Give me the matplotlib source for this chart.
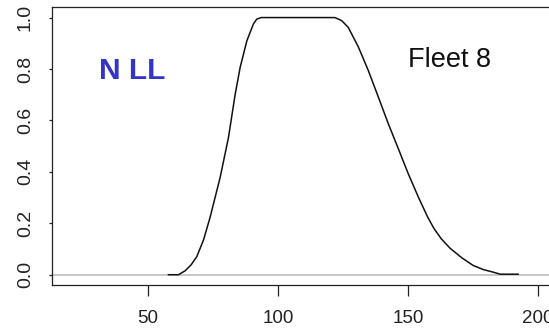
import matplotlib
matplotlib.use("Agg")
from matplotlib import pyplot as plt

# selectivity curve (length, selectivity)
length = [57.8, 61.7, 64.2, 66.5, 68.7, 71.3, 73.8, 77.7, 80.9, 83.5, 85.4,
          88.0, 90.5, 91.8, 93.5, 121.9, 124.5, 127.0, 130.9, 134.7, 138.6,
          142.4, 146.3, 150.1, 154.0, 157.5, 160.0, 162.8, 166.2, 170.7, 175.1,
          179.0, 182.8, 185.5, 192.4]
selectivity = [0.0, 0.0, 0.015, 0.038, 0.07, 0.135, 0.222, 0.378, 0.533, 0.702,
               0.806, 0.91, 0.975, 0.994, 1.0, 1.0, 0.988, 0.962, 0.886, 0.795,
               0.691, 0.588, 0.49, 0.393, 0.302, 0.226, 0.18, 0.14, 0.103,
               0.066, 0.036, 0.02, 0.01, 0.002, 0.002]
x_ticks = [50, 100, 150, 200]
y_ticks = [0.0, 0.2, 0.4, 0.6, 0.8, 1.0]
area_label = "N LL"
fleet_label = "Fleet 8"

plt.rcParams["font.family"] = ["Liberation Sans", "DejaVu Sans"]

fig = plt.figure(figsize=(5.49, 3.31), dpi=100)
ax = fig.add_axes([0.0953, 0.139, 0.979, 0.839])

ax.axhline(0, color="#c4c4c4", lw=1.3, zorder=1)
ax.plot(length, selectivity, color="#111111", lw=1.1, zorder=2)

ax.set_xlim(13.1, 220)
ax.set_ylim(-0.04, 1.04)
ax.set_xticks(x_ticks)
ax.set_yticks(y_ticks)
ax.set_yticklabels([f"{v:.1f}" for v in y_ticks], rotation=90, va="center")

ax.tick_params(axis="x", length=8, width=0.9, pad=10, labelsize=13.5, colors="#222222")
ax.tick_params(axis="y", length=2.2, width=0.9, pad=11, labelsize=14, colors="#222222")
for sp in ax.spines.values():
    sp.set_linewidth(0.9)
    sp.set_color("#222222")

ax.text(0.241, 0.787, area_label, transform=fig.transFigure, ha="center", va="center",
        fontsize=21.5, fontweight="bold", color="#3434c8")
ax.text(0.818, 0.82, fleet_label, transform=fig.transFigure, ha="center", va="center",
        fontsize=19.5, color="#111111")

fig.savefig("out.png", dpi=100)
